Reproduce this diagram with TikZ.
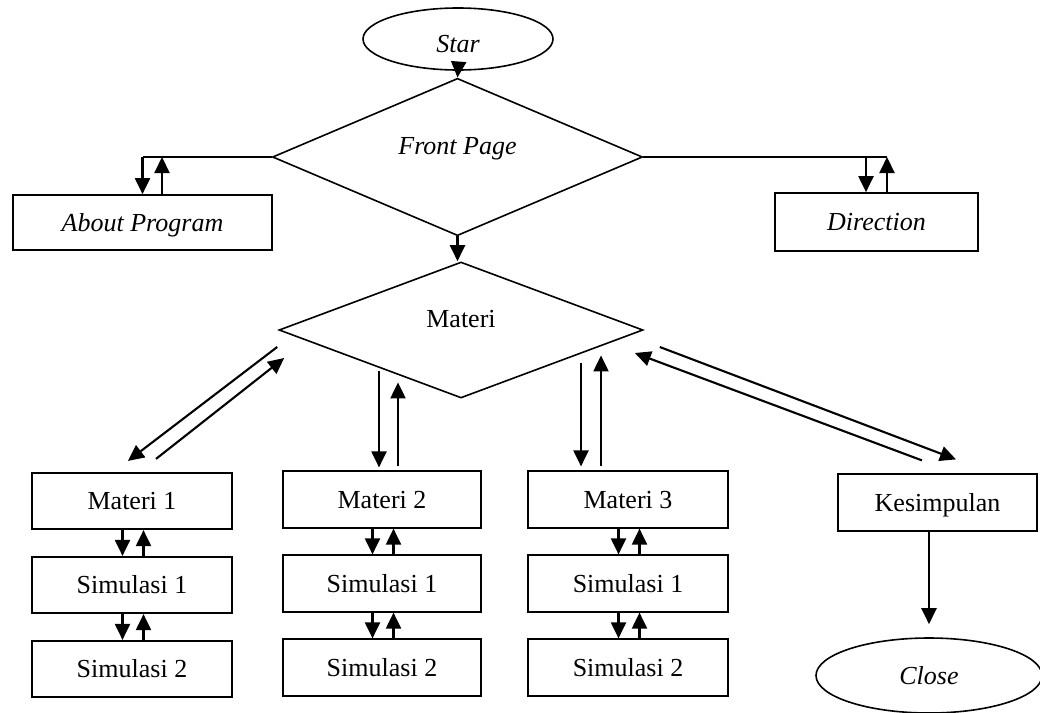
\documentclass[tikz,border=0pt]{standalone}
\usepackage{fontspec}
\setmainfont{Liberation Serif}
\usetikzlibrary{shapes.geometric,arrows.meta}
\begin{document}
\begin{tikzpicture}[x=1pt,y=-1pt,
  font=\fontsize{26}{30}\selectfont,
  every node/.style={inner sep=0pt, text height=17.2pt, text depth=0pt},
  box/.style={draw, line width=1.7pt, rectangle, minimum width=#1, minimum height=56.5pt},
  box/.default=200pt,
  oval/.style={draw, line width=1.6pt, ellipse},
  choice/.style={draw, line width=1.6pt, diamond},
  flow/.style={line width=1.6pt},
  arr/.style={line width=2.1pt, -{Triangle[length=16pt,width=15pt]}}]
\useasboundingbox (0,0) rectangle (1040,712);

% terminals and decisions
\node[oval, minimum width=190pt, minimum height=62pt, text height=26.2pt] (star) at (458,39) {\itshape Star};
\node[choice, minimum width=370pt, minimum height=132pt, text depth=22pt] (fp) at (457.5,157) {\itshape Front Page};
\node[box=259pt, minimum height=55pt] (ab) at (142.5,222.5) {\itshape About Program};
\node[box=203pt, minimum height=58pt] (dir) at (876.5,222) {\itshape Direction};
\node[choice, minimum width=364pt, minimum height=136pt, text depth=23pt] (mat) at (461,330) {Materi};

% column 1
\node[box] (m1)  at (132,501) {Materi 1};
\node[box] (s11) at (132,585) {Simulasi 1};
\node[box] (s12) at (132,669) {Simulasi 2};
% column 2
\node[box=198pt] (m2)  at (382,499.5) {Materi 2};
\node[box=198pt] (s21) at (382,583.5) {Simulasi 1};
\node[box=198pt] (s22) at (382,667.5) {Simulasi 2};
% column 3
\node[box] (m3)  at (628,499.5) {Materi 3};
\node[box] (s31) at (628,583.5) {Simulasi 1};
\node[box] (s32) at (628,667.5) {Simulasi 2};
% conclusion
\node[box=199pt] (kes) at (937.5,502.5) {Kesimpulan};
\node[oval, minimum width=226pt, minimum height=75pt] (close) at (929,675.5) {\itshape Close};

% main flow
\draw[arr] (star.south) -- (fp.north);
\draw[arr] (fp.south) -- (fp.south |- mat.north);

% side pages
\draw[flow] (fp.west) -- (ab.north |- fp.west);
\draw[arr] (ab.north |- fp.west) -- (ab.north);
\draw[arr] ([shift={(19.5,0)}]ab.north) -- ([shift={(19.5,0)}]ab.north |- fp.west);
\draw[flow] (fp.east) -- ([shift={(10.5,0)}]dir.north |- fp.east);
\draw[arr] ([shift={(-10.5,0)}]dir.north |- fp.east) -- ([shift={(-10.5,0)}]dir.north);
\draw[arr] ([shift={(10.5,0)}]dir.north) -- ([shift={(10.5,0)}]dir.north |- fp.east);

% Materi to its branches
\draw[arr] ([shift={(-1,17)}]mat.west) -- ([shift={(-4,-11)}]m1.north);
\draw[arr] ([shift={(24,-13)}]m1.north) -- ([shift={(6,28)}]mat.west);
\draw[arr] ([shift={(-3,-99)}]m2.north) -- ([shift={(-3,-3)}]m2.north);
\draw[arr] ([shift={(16,-4)}]m2.north) -- ([shift={(16,-88)}]m2.north);
\draw[arr] ([shift={(-47,-107)}]m3.north) -- ([shift={(-47,-4)}]m3.north);
\draw[arr] ([shift={(-27,-4)}]m3.north) -- ([shift={(-27,-115)}]m3.north);
\draw[arr] ([shift={(-15.5,-13)}]kes.north) -- ([shift={(-9,23)}]mat.east);
\draw[arr] ([shift={(16,17)}]mat.east) -- ([shift={(18.5,-14)}]kes.north);

% topic to simulations
\foreach \a/\b in {m1/s11, s11/s12, m2/s21, s21/s22, m3/s31, s31/s32} {
  \draw[arr] ([shift={(-9.5,0)}]\a.south) -- ([shift={(-9.5,0)}]\b.north);
  \draw[arr] ([shift={(11.5,0)}]\b.north) -- ([shift={(11.5,0)}]\a.south);
}

% end
\draw[arr] (kes.south -| close.north) -- ([shift={(0,-13)}]close.north);
\end{tikzpicture}
\end{document}
